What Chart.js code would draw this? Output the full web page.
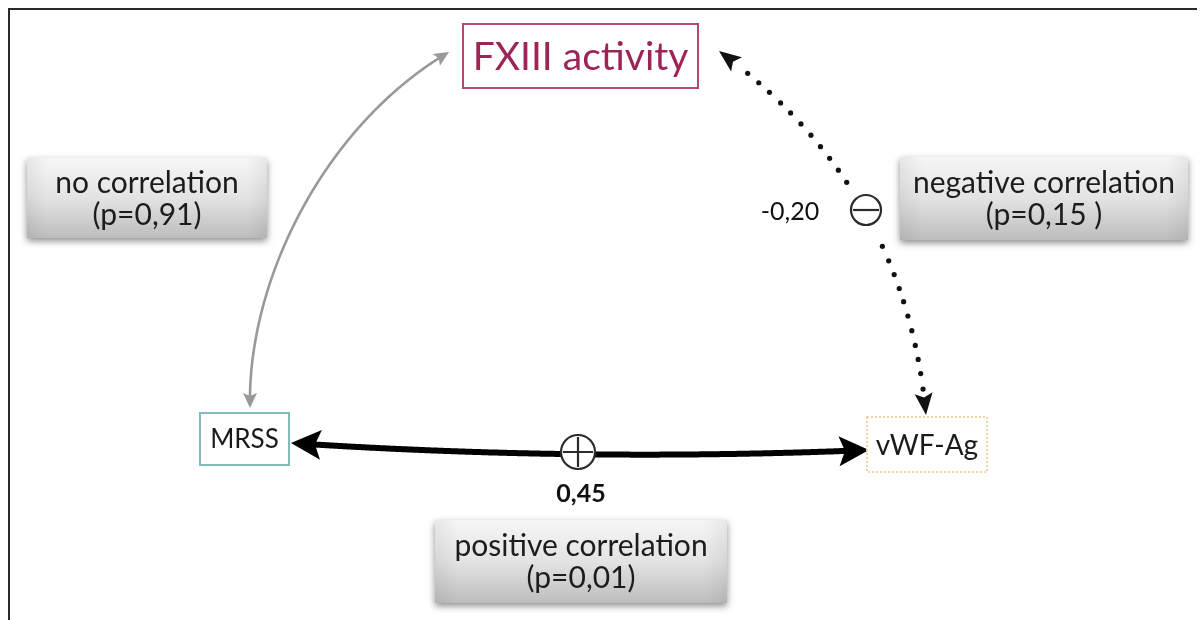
<!DOCTYPE html>
<html>
<head>
<meta charset="utf-8">
<script src="https://cdn.jsdelivr.net/npm/chart.js@4"></script>
<style>
  html, body { margin: 0; padding: 0; background: #fff; }
  #wrap { width: 1204px; height: 620px; }
</style>
</head>
<body>
<div id="wrap"><canvas id="chart" width="1204" height="620"></canvas></div>
<script>
// diagram content
const nodes = ["FXIII activity", "MRSS", "vWF-Ag"];
const edgeFrom = ["MRSS", "vWF-Ag", "MRSS"];
const edgeTo = ["FXIII activity", "FXIII activity", "vWF-Ag"];
const edgeCoef = ["", "-0,20", "0,45"];
const edgeSign = ["", "minus", "plus"];
const edgeText = ["no correlation", "negative correlation", "positive correlation"];
const edgeP = ["(p=0,91)", "(p=0,15 )", "(p=0,01)"];

// layout in chart units (x 0..1204, y 0..620 top-down)
const nodeBox = {
  "FXIII activity": { x1: 463, y1: 24, x2: 698, y2: 88, stroke: "#b8476f", color: "#9c2456", size: 39, dash: [] },
  "MRSS": { x1: 200, y1: 413, x2: 289, y2: 465, stroke: "#86b9b9", color: "#1a1a1a", size: 26, dash: [] },
  "vWF-Ag": { x1: 867, y1: 417, x2: 987, y2: 472, stroke: "#f2d3a6", color: "#1a1a1a", size: 28, dash: [2, 2] },
};
const edgeStyle = [
  { kind: "cubic", pts: [[250, 408], [247, 280], [325, 125], [449, 52]], color: "#999999", width: 2.6, head: [15, 7],
    box: [27, 158, 267, 238] },
  { kind: "dots", pts: [[926, 415], [905, 187], [719, 51]], color: "#111", width: 0, head: [22, 9],
    box: [900, 157, 1188, 240], sign: [866, 210, 15], coef: [790, 212] },
  { kind: "quad", pts: [[291, 443], [580, 462], [869, 450]], color: "#000", width: 6, head: [30, 15],
    box: [435, 520, 727, 603], sign: [578, 452, 17], coef: [581, 494] },
];

const FONT = "Lato, 'Open Sans', sans-serif";

function bez(p, t) {
  if (p.length === 3) {
    const a = (1 - t) * (1 - t), b = 2 * (1 - t) * t, c = t * t;
    return [a * p[0][0] + b * p[1][0] + c * p[2][0], a * p[0][1] + b * p[1][1] + c * p[2][1]];
  }
  const a = (1 - t) ** 3, b = 3 * (1 - t) ** 2 * t, c = 3 * (1 - t) * t * t, d = t ** 3;
  return [a * p[0][0] + b * p[1][0] + c * p[2][0] + d * p[3][0],
          a * p[0][1] + b * p[1][1] + c * p[2][1] + d * p[3][1]];
}

function arrowHead(ctx, tip, from, len, half, color) {
  const dx = tip[0] - from[0], dy = tip[1] - from[1];
  const d = Math.hypot(dx, dy);
  const ux = dx / d, uy = dy / d;
  const bx = tip[0] - ux * len, by = tip[1] - uy * len;
  ctx.beginPath();
  ctx.moveTo(tip[0], tip[1]);
  ctx.lineTo(bx - uy * half, by + ux * half);
  ctx.lineTo(tip[0] - ux * len * 0.8, tip[1] - uy * len * 0.8);
  ctx.lineTo(bx + uy * half, by - ux * half);
  ctx.closePath();
  ctx.fillStyle = color;
  ctx.fill();
}

function greyBox(ctx, x1, y1, x2, y2) {
  ctx.save();
  ctx.shadowColor = "rgba(0,0,0,0.45)";
  ctx.shadowBlur = 7;
  ctx.shadowOffsetY = 3;
  const g = ctx.createLinearGradient(0, y1, 0, y2);
  g.addColorStop(0, "#f6f6f6");
  g.addColorStop(0.5, "#e3e3e3");
  g.addColorStop(1, "#bdbdbd");
  ctx.fillStyle = g;
  ctx.fillRect(x1, y1, x2 - x1, y2 - y1);
  ctx.restore();
  const h = ctx.createLinearGradient(x1, 0, x2, 0);
  h.addColorStop(0, "rgba(0,0,0,0.06)");
  h.addColorStop(0.08, "rgba(0,0,0,0)");
  h.addColorStop(0.92, "rgba(0,0,0,0)");
  h.addColorStop(1, "rgba(0,0,0,0.06)");
  ctx.fillStyle = h;
  ctx.fillRect(x1, y1, x2 - x1, y2 - y1);
}

const diagram = {
  id: "diagram",
  afterDatasetsDraw(chart) {
    const ctx = chart.ctx;
    const X = v => chart.scales.x.getPixelForValue(v);
    const Y = v => chart.scales.y.getPixelForValue(v);
    const P = p => [X(p[0]), Y(p[1])];
    ctx.save();

    // frame
    ctx.strokeStyle = "#2a2a2a";
    ctx.lineWidth = 2;
    ctx.beginPath();
    ctx.moveTo(X(9), Y(620));
    ctx.lineTo(X(9), Y(9));
    ctx.lineTo(X(1197), Y(9));
    ctx.stroke();

    // edges
    edgeStyle.forEach((e, i) => {
      const pts = e.pts.map(P);
      const n = 400;
      const samp = [];
      for (let k = 0; k <= n; k++) samp.push(bez(pts, k / n));
      const cum = [0];
      for (let k = 1; k <= n; k++) cum.push(cum[k - 1] + Math.hypot(samp[k][0] - samp[k - 1][0], samp[k][1] - samp[k - 1][1]));
      const total = cum[n];
      const at = s => { let k = cum.findIndex(c => c >= s); if (k < 0) k = n; return samp[k]; };
      const [hl, hh] = e.head;
      if (e.kind === "dots") {
        ctx.fillStyle = e.color;
        const sc = e.sign;
        for (let s = hl + 4; s <= total - hl - 3; s += 14.8) {
          const q = at(s);
          if (sc && Math.hypot(q[0] - X(sc[0]), q[1] - Y(sc[1])) < 31) continue;
          ctx.beginPath();
          ctx.arc(q[0], q[1], 2.6, 0, Math.PI * 2);
          ctx.fill();
        }
      } else {
        const s0 = at(hl * 0.75);
        const i0 = cum.findIndex(c => c >= hl * 0.75), i1 = cum.findIndex(c => c >= total - hl * 0.75);
        ctx.strokeStyle = e.color;
        ctx.lineWidth = e.width;
        ctx.lineCap = "butt";
        ctx.beginPath();
        ctx.moveTo(s0[0], s0[1]);
        for (let k = i0; k <= i1; k++) ctx.lineTo(samp[k][0], samp[k][1]);
        ctx.stroke();
      }
      arrowHead(ctx, samp[0], at(hl), hl, hh, e.color);
      arrowHead(ctx, samp[n], at(total - hl), hl, hh, e.color);

      // sign circle
      if (e.sign) {
        const cx = X(e.sign[0]), cy = Y(e.sign[1]), r = e.sign[2];
        ctx.beginPath();
        ctx.arc(cx, cy, r, 0, Math.PI * 2);
        ctx.fillStyle = "#fff";
        ctx.fill();
        ctx.lineWidth = 2.2;
        ctx.strokeStyle = "#2b2b2b";
        ctx.stroke();
        ctx.beginPath();
        ctx.moveTo(cx - r + 2, cy);
        ctx.lineTo(cx + r - 2, cy);
        if (edgeSign[i] === "plus") {
          ctx.moveTo(cx, cy - r + 2);
          ctx.lineTo(cx, cy + r - 2);
        }
        ctx.stroke();
      }
      if (edgeCoef[i]) {
        ctx.fillStyle = "#111";
        ctx.font = (edgeSign[i] === "plus" ? "bold 25px " : "25px ") + FONT;
        ctx.textAlign = "center";
        ctx.textBaseline = "middle";
        ctx.fillText(edgeCoef[i], X(e.coef[0]), Y(e.coef[1]));
      }

      // label box
      const b = e.box;
      greyBox(ctx, X(b[0]), Y(b[1]), X(b[2]), Y(b[3]));
      ctx.fillStyle = "#1c1c1c";
      ctx.font = "30px " + FONT;
      ctx.textAlign = "center";
      ctx.textBaseline = "middle";
      const mx = X((b[0] + b[2]) / 2), my = Y((b[1] + b[3]) / 2);
      ctx.fillText(edgeText[i], mx, my - 15);
      ctx.fillText(edgeP[i], mx, my + 17);
    });

    // nodes
    nodes.forEach(name => {
      const b = nodeBox[name];
      const x1 = X(b.x1), y1 = Y(b.y1), x2 = X(b.x2), y2 = Y(b.y2);
      ctx.fillStyle = "#fff";
      ctx.fillRect(x1, y1, x2 - x1, y2 - y1);
      ctx.setLineDash(b.dash);
      ctx.strokeStyle = b.stroke;
      ctx.lineWidth = 2;
      ctx.strokeRect(x1, y1, x2 - x1, y2 - y1);
      ctx.setLineDash([]);
      ctx.fillStyle = b.color;
      ctx.font = b.size + "px " + FONT;
      ctx.textAlign = "center";
      ctx.textBaseline = "middle";
      ctx.fillText(name, (x1 + x2) / 2, (y1 + y2) / 2 + 1);
    });
    ctx.restore();
  }
};

new Chart(document.getElementById("chart"), {
  type: "scatter",
  data: {
    datasets: [{
      label: "nodes",
      data: nodes.map(n => ({ x: (nodeBox[n].x1 + nodeBox[n].x2) / 2, y: (nodeBox[n].y1 + nodeBox[n].y2) / 2 })),
      pointRadius: 0,
    }],
  },
  options: {
    responsive: false,
    animation: false,
    layout: { padding: 0 },
    plugins: { legend: { display: false }, tooltip: { enabled: false } },
    scales: {
      x: { type: "linear", min: 0, max: 1204, display: false },
      y: { type: "linear", min: 0, max: 620, reverse: true, display: false },
    },
  },
  plugins: [diagram],
});
</script>
</body>
</html>
